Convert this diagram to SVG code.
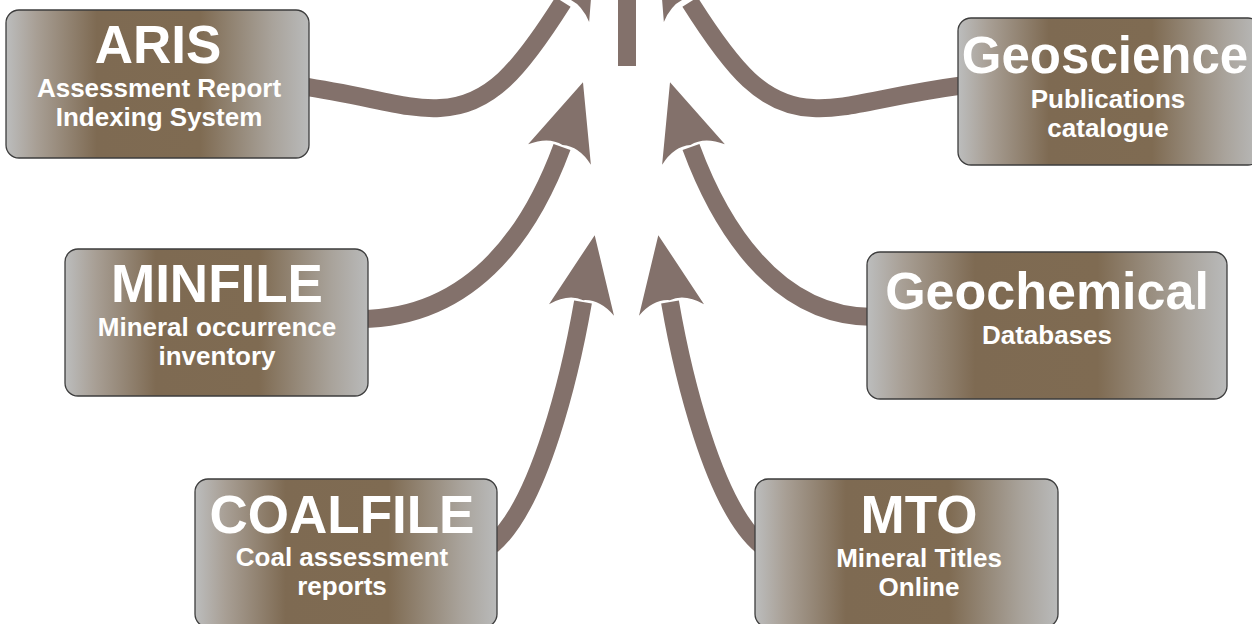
<svg xmlns="http://www.w3.org/2000/svg" xmlns:xlink="http://www.w3.org/1999/xlink" width="1252" height="624" viewBox="0 0 1252 624">
  <style>
    .box { stroke: #3d3d3d; stroke-width: 1.3; fill: url(#boxFill); }
    .title { font-family: "Liberation Sans", Arial, sans-serif; font-weight: bold; font-size: 53px; fill: #ffffff; text-anchor: middle; }
    .sub { font-family: "Liberation Sans", Arial, sans-serif; font-weight: bold; font-size: 26px; fill: #ffffff; text-anchor: middle; }
    .shaft { fill: none; stroke: #83716b; stroke-width: 18; }
    .head { fill: #83716b; }
  </style>
  <defs>
    <linearGradient id="boxFill" x1="0" y1="0" x2="1" y2="0">
      <stop offset="0" stop-color="#bcbdbd"/>
      <stop offset="0.1" stop-color="#a89f95"/>
      <stop offset="0.3" stop-color="#7e6a52"/>
      <stop offset="0.64" stop-color="#7f6b52"/>
      <stop offset="0.88" stop-color="#a9a39b"/>
      <stop offset="1" stop-color="#b9baba"/>
    </linearGradient>
    <!-- arrowhead pointing up, base centre at origin -->
    <path id="head" class="head" d="M0,-76 L33,0 Q16,-14 0,-10 Q-16,-14 -33,0 Z"/>
  </defs>

  <g id="connectors">
    <!-- central stub -->
    <rect x="618" y="-5" width="18" height="71" fill="#83716b"/>
    <!-- ARIS -->
    <path class="shaft" d="M300,86 C370,96 405,110 440,108 C490,106 520,70 563,2"/>
    <use xlink:href="#head" transform="translate(560,6.5) rotate(28)"/>
    <!-- Geoscience -->
    <path class="shaft" d="M965,85 C883,96 848,110 813,108 C763,106 733,70 690,2"/>
    <use xlink:href="#head" transform="translate(693,6.5) rotate(-28)"/>
    <!-- MINFILE -->
    <path class="shaft" d="M360,319 C480,318 535,220 562,147"/>
    <use xlink:href="#head" transform="translate(559.5,154.5) rotate(18)"/>
    <!-- Geochemical -->
    <path class="shaft" d="M875,317 C773,318 718,220 691,147"/>
    <use xlink:href="#head" transform="translate(693.5,154.5) rotate(-18)"/>
    <!-- COALFILE -->
    <path class="shaft" d="M492,545 C540,505 571,371 583,302"/>
    <use xlink:href="#head" transform="translate(581.5,310) rotate(10)"/>
    <!-- MTO -->
    <path class="shaft" d="M761,545 C713,505 682,371 670,302"/>
    <use xlink:href="#head" transform="translate(671.5,310) rotate(-10)"/>
  </g>

  <g id="aris">
    <rect class="box" x="6" y="10" width="303" height="148" rx="13"/>
    <text class="title" x="158" y="63">ARIS</text>
    <text class="sub" x="159" y="97">Assessment Report</text>
    <text class="sub" x="159" y="126">Indexing System</text>
  </g>

  <g id="minfile">
    <rect class="box" x="65" y="249" width="303" height="147" rx="13"/>
    <text class="title" x="217" y="302">MINFILE</text>
    <text class="sub" x="217" y="336">Mineral occurrence</text>
    <text class="sub" x="217" y="365">inventory</text>
  </g>

  <g id="coalfile">
    <rect class="box" x="195" y="479" width="302" height="148" rx="13"/>
    <text class="title" x="342" y="533">COALFILE</text>
    <text class="sub" x="342" y="566">Coal assessment</text>
    <text class="sub" x="342" y="595">reports</text>
  </g>

  <g id="geoscience">
    <rect class="box" x="958" y="18" width="303" height="147" rx="13"/>
    <text class="title" x="1105" y="73" style="font-size:51px">Geoscience</text>
    <text class="sub" x="1108" y="108">Publications</text>
    <text class="sub" x="1108" y="137">catalogue</text>
  </g>

  <g id="geochemical">
    <rect class="box" x="867" y="252" width="360" height="147" rx="13"/>
    <text class="title" x="1047" y="309" style="font-size:52px">Geochemical</text>
    <text class="sub" x="1047" y="344">Databases</text>
  </g>

  <g id="mto">
    <rect class="box" x="755" y="479" width="303" height="148" rx="13"/>
    <text class="title" x="919" y="533">MTO</text>
    <text class="sub" x="919" y="567">Mineral Titles</text>
    <text class="sub" x="919" y="596">Online</text>
  </g>
</svg>
